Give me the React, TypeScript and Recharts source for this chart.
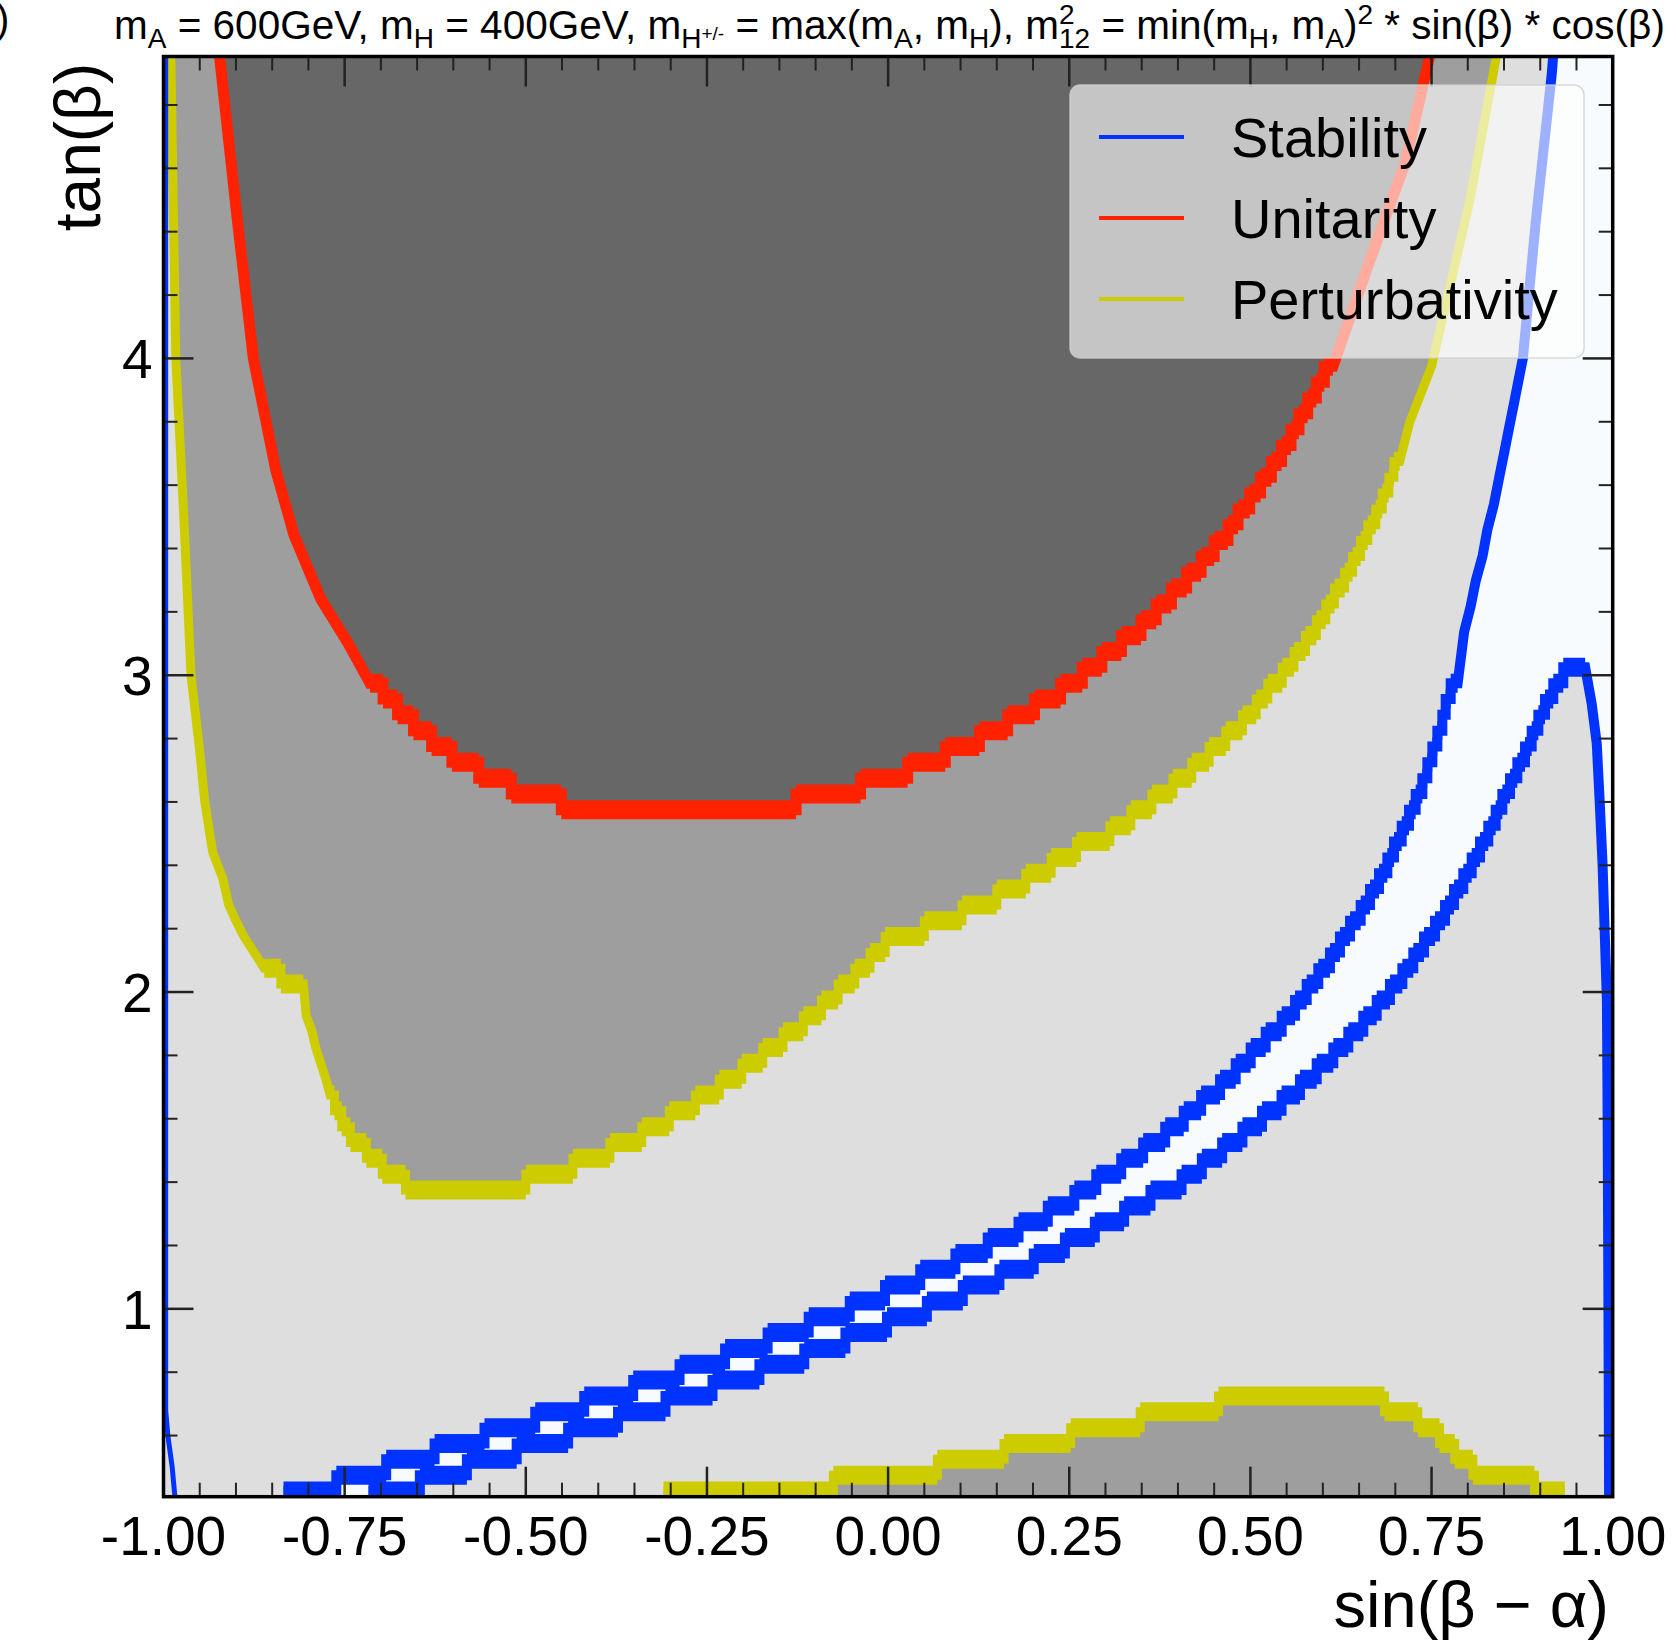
import React from 'react';
import { ComposedChart, Area, Line, XAxis, YAxis } from 'recharts';

const W = 1676;
const H = 1642;
const PLOT = { left: 163.5, right: 1612.7, top: 56.5, bottom: 1496.7 };
const X_AXIS_H = 60;
const Y_AXIS_W = 60;
const FONT = '"Liberation Sans", Arial, Helvetica, sans-serif';

const X_DOMAIN = [-1, 1];
const Y_DOMAIN = [0.407, 4.953];
const X_TICKS = [
  -1, -0.95, -0.9, -0.85, -0.8, -0.75, -0.7, -0.65, -0.6, -0.55, -0.5, -0.45, -0.4, -0.35,
  -0.3, -0.25, -0.2, -0.15, -0.1, -0.05, 0, 0.05, 0.1, 0.15, 0.2, 0.25, 0.3, 0.35, 0.4,
  0.45, 0.5, 0.55, 0.6, 0.65, 0.7, 0.75, 0.8, 0.85, 0.9, 0.95, 1,
];
const X_LABELED = [-1, -0.75, -0.5, -0.25, 0, 0.25, 0.5, 0.75, 1];
const Y_TICKS = [
  0.6, 0.8, 1, 1.2, 1.4, 1.6, 1.8, 2, 2.2, 2.4, 2.6, 2.8, 3, 3.2, 3.4, 3.6, 3.8, 4, 4.2,
  4.4, 4.6, 4.8,
];
const Y_LABELED = [1, 2, 3, 4];

const DARK = '#676767';
const MID = '#9e9e9e';
const LIGHT = '#dedede';
const PALE = '#f7fbfd';
const RED = '#ff2200';
const YELLOW = '#cccc00';
const BLUE = '#0033ff';
const TICK = '#222';

// half thickness of the stair blocks, in tan(beta) units
const HALF = 0.03;

type P = [number, number];

// Unitarity (red)
const RED_LEFT: P[] = [
  [-0.923, 4.96], [-0.899, 4.455], [-0.876, 4.0], [-0.845, 3.647], [-0.82, 3.443],
  [-0.783, 3.241], [-0.745, 3.1], [-0.715, 2.975],
];
const RED_STEPS: P[] = [
  [-0.715, 2.975], [-0.697, 2.925], [-0.677, 2.875], [-0.655, 2.825], [-0.63, 2.775],
  [-0.602, 2.725], [-0.565, 2.675], [-0.52, 2.625], [-0.451, 2.575], [-0.127, 2.625],
  [-0.038, 2.675], [0.027, 2.725], [0.079, 2.775], [0.126, 2.825], [0.165, 2.875],
  [0.202, 2.925], [0.238, 2.975], [0.268, 3.025], [0.295, 3.075], [0.322, 3.125],
  [0.349, 3.175], [0.37, 3.225], [0.391, 3.275], [0.412, 3.325], [0.432, 3.375],
  [0.45, 3.425], [0.469, 3.475], [0.483, 3.525], [0.499, 3.575], [0.514, 3.625],
  [0.529, 3.675], [0.543, 3.725], [0.556, 3.775], [0.567, 3.825], [0.579, 3.875],
  [0.591, 3.925], [0.602, 3.975], [0.614, 3.975],
];
const RED_RIGHT: P[] = [[0.614, 3.975], [0.662, 4.29], [0.714, 4.62], [0.748, 4.96]];

// Perturbativity (yellow), upper curve
const YEL_LEFT: P[] = [
  [-0.99, 4.96], [-0.983, 4.0], [-0.972, 3.5], [-0.962, 3.0], [-0.95, 2.76], [-0.943, 2.6],
  [-0.932, 2.44], [-0.918, 2.357], [-0.91, 2.275], [-0.9, 2.225], [-0.889, 2.175],
  [-0.875, 2.125], [-0.861, 2.075],
];
const YEL_STEPS_A: P[] = [[-0.861, 2.075], [-0.838, 2.025], [-0.807, 2.025]];
const YEL_MID: P[] = [
  [-0.807, 2.025], [-0.805, 1.975], [-0.803, 1.925], [-0.795, 1.875], [-0.79, 1.825],
  [-0.783, 1.775], [-0.776, 1.725], [-0.77, 1.675],
];
const YEL_STEPS_B: P[] = [
  [-0.77, 1.675], [-0.764, 1.625], [-0.754, 1.575], [-0.742, 1.525], [-0.72, 1.475],
  [-0.698, 1.425], [-0.666, 1.375], [-0.5, 1.425], [-0.435, 1.475], [-0.384, 1.525],
  [-0.34, 1.575], [-0.302, 1.625], [-0.266, 1.675], [-0.233, 1.725], [-0.202, 1.775],
  [-0.173, 1.825], [-0.145, 1.875], [-0.117, 1.925], [-0.092, 1.975], [-0.069, 2.025],
  [-0.046, 2.075], [-0.025, 2.125], [-0.004, 2.175], [0.05, 2.225], [0.102, 2.275],
  [0.15, 2.325], [0.19, 2.375], [0.225, 2.425], [0.26, 2.475], [0.306, 2.525],
  [0.335, 2.575], [0.364, 2.625], [0.393, 2.675], [0.419, 2.725], [0.443, 2.775],
  [0.466, 2.825], [0.489, 2.875], [0.508, 2.925], [0.524, 2.975], [0.544, 3.025],
  [0.56, 3.075], [0.576, 3.125], [0.591, 3.175], [0.604, 3.225], [0.616, 3.275],
  [0.63, 3.325], [0.641, 3.375], [0.652, 3.425], [0.662, 3.475], [0.673, 3.525],
  [0.682, 3.575], [0.691, 3.625], [0.698, 3.675], [0.706, 3.675],
];
const YEL_RIGHT: P[] = [[0.706, 3.675], [0.72, 3.8], [0.75, 3.975], [0.803, 4.5], [0.84, 4.96]];

// Perturbativity (yellow), lower curve
const YEL_LOW_STEPS: P[] = [
  [-0.31, 0.425], [-0.0755, 0.475], [0.068, 0.525], [0.16, 0.575], [0.252, 0.625],
  [0.348, 0.675], [0.456, 0.725], [0.685, 0.675], [0.731, 0.625], [0.761, 0.575],
  [0.782, 0.525], [0.807, 0.475], [0.892, 0.425], [0.934, 0.425],
];

// Stability (blue), upper curve
const BLUE_UP_STEPS: P[] = [
  [-0.8344, 0.425], [-0.7615, 0.475], [-0.6927, 0.525], [-0.6259, 0.575], [-0.557, 0.625],
  [-0.487, 0.675], [-0.4194, 0.725], [-0.3518, 0.775], [-0.2878, 0.825], [-0.225, 0.875],
  [-0.1663, 0.925], [-0.1096, 0.975], [-0.0529, 1.025], [-0.0043, 1.075], [0.0443, 1.125],
  [0.0929, 1.175], [0.1375, 1.225], [0.18, 1.275], [0.2204, 1.325], [0.257, 1.375],
  [0.2873, 1.425], [0.3217, 1.475], [0.352, 1.525], [0.3824, 1.575], [0.408, 1.625],
  [0.432, 1.675], [0.4581, 1.725], [0.4797, 1.775], [0.5004, 1.825], [0.5211, 1.875],
  [0.5432, 1.925], [0.5616, 1.975], [0.5777, 2.025], [0.5937, 2.075], [0.6098, 2.125],
  [0.6236, 2.175], [0.6375, 2.225], [0.6522, 2.275], [0.6651, 2.325], [0.6775, 2.375],
  [0.689, 2.425], [0.6982, 2.475], [0.7088, 2.525], [0.7189, 2.575], [0.7281, 2.625],
  [0.7373, 2.675], [0.7442, 2.725], [0.7511, 2.775], [0.758, 2.825], [0.7649, 2.875],
  [0.7695, 2.925], [0.7764, 2.975], [0.786, 2.975],
];
const BLUE_UP_RIGHT: P[] = [
  [0.786, 2.975], [0.795, 3.137], [0.804, 3.218], [0.811, 3.298], [0.8206, 3.378],
  [0.827, 3.459], [0.836, 3.539], [0.843, 3.62], [0.85, 3.7], [0.857, 3.781],
  [0.864, 3.861], [0.871, 3.942], [0.876, 4.0], [0.894, 4.436], [0.916, 4.9], [0.918, 4.96],
];

// Stability (blue), lower curve
const BLUE_LOW_STEPS: P[] = [
  [-0.717, 0.425], [-0.6462, 0.475], [-0.5813, 0.525], [-0.5126, 0.575], [-0.4416, 0.625],
  [-0.3728, 0.675], [-0.3072, 0.725], [-0.2423, 0.775], [-0.1776, 0.825], [-0.1157, 0.875],
  [-0.0589, 0.925], [-0.0015, 0.975], [0.0535, 1.025], [0.1031, 1.075], [0.1536, 1.125],
  [0.201, 1.175], [0.244, 1.225], [0.2853, 1.275], [0.3257, 1.325], [0.3621, 1.375],
  [0.405, 1.425], [0.433, 1.475], [0.461, 1.525], [0.489, 1.575], [0.516, 1.625],
  [0.543, 1.675], [0.5684, 1.725], [0.5915, 1.775], [0.6144, 1.825], [0.6351, 1.875],
  [0.6558, 1.925], [0.6743, 1.975], [0.6926, 2.025], [0.7097, 2.075], [0.7248, 2.125],
  [0.7396, 2.175], [0.7548, 2.225], [0.7686, 2.275], [0.781, 2.325], [0.7938, 2.375],
  [0.8054, 2.425], [0.8169, 2.475], [0.8283, 2.525], [0.8385, 2.575], [0.8477, 2.625],
  [0.8583, 2.675], [0.8684, 2.725], [0.879, 2.775], [0.8882, 2.825], [0.8974, 2.875],
  [0.9066, 2.925], [0.918, 2.975], [0.9318, 3.025], [0.962, 3.025],
];
const BLUE_LOW_RIGHT: P[] = [
  [0.962, 3.025], [0.971, 2.91], [0.978, 2.784], [0.982, 2.603], [0.986, 2.404],
  [0.989, 2.187], [0.992, 1.971], [0.993, 1.608], [0.994, 1.065], [0.995, 0.4],
];
// thin stability contour hugging the left edge
const BLUE_EDGE: P[] = [[-0.997, 4.96], [-0.997, 0.68], [-0.994, 0.6], [-0.988, 0.5], [-0.984, 0.4]];
// corner the pale (stable) region reaches at the top right
const PALE_CORNER: P[] = [[1, 4.96]];

const LEGEND = [
  { name: 'Stability', color: BLUE },
  { name: 'Unitarity', color: RED },
  { name: 'Perturbativity', color: YELLOW },
];

const pts = (a: P[]) => a.map(([x, y]) => ({ x, y }));
const expand = (steps: P[]): P[] => {
  const out: P[] = [];
  for (let i = 0; i < steps.length - 1; i++) {
    out.push([steps[i][0], steps[i][1]], [steps[i + 1][0], steps[i][1]]);
  }
  return out;
};
const band = (steps: P[]) => steps.map(([x, y]) => ({ x, band: [y - HALF, y + HALF] }));

const RED_ALL = [...RED_LEFT, ...expand(RED_STEPS), ...RED_RIGHT];
const YEL_ALL = [...YEL_LEFT, ...expand(YEL_STEPS_A), ...YEL_MID, ...expand(YEL_STEPS_B), ...YEL_RIGHT];
const BLUE_UP_LINE = [...expand(BLUE_UP_STEPS), ...BLUE_UP_RIGHT];
const BLUE_LOW_ALL = [...expand(BLUE_LOW_STEPS), ...BLUE_LOW_RIGHT];
const YEL_LOW_ALL = expand(YEL_LOW_STEPS);

const isIn = (list: number[], v: number) => list.some((t) => Math.abs(t - v) < 1e-9);

const XTick = (props: any) => {
  const { x, payload } = props;
  const v: number = payload.value;
  const major = isIn(X_LABELED, v);
  const len = major ? 30 : 14;
  const sw = major ? 2.5 : 2;
  return (
    <g>
      <line x1={x} x2={x} y1={PLOT.bottom} y2={PLOT.bottom - len} stroke={TICK} strokeWidth={sw} />
      <line x1={x} x2={x} y1={PLOT.top} y2={PLOT.top + len} stroke={TICK} strokeWidth={sw} />
      {major && (
        <text x={x} y={PLOT.bottom + 58} textAnchor="middle" fontSize={55} fontFamily={FONT} fill="#000">
          {v.toFixed(2)}
        </text>
      )}
    </g>
  );
};

const YTick = (props: any) => {
  const { y, payload } = props;
  const v: number = payload.value;
  const major = isIn(Y_LABELED, v);
  const len = major ? 30 : 14;
  const sw = major ? 2.5 : 2;
  return (
    <g>
      <line x1={PLOT.left} x2={PLOT.left + len} y1={y} y2={y} stroke={TICK} strokeWidth={sw} />
      <line x1={PLOT.right} x2={PLOT.right - len} y1={y} y2={y} stroke={TICK} strokeWidth={sw} />
      {major && (
        <text x={PLOT.left - 11} y={y + 20} textAnchor="end" fontSize={55} fontFamily={FONT} fill="#000">
          {String(v)}
        </text>
      )}
    </g>
  );
};

// title pieces: [text, kind]  n normal, b subscript, p superscript, s small raised in subscript
const TITLE: [string, string, number?][] = [
  ['m', 'n'], ['A', 'b'], [' = 600GeV, m', 'n'], ['H', 'b'], [' = 400GeV, m', 'n'], ['H', 'b'],
  ['+/-', 's'], [' = max(m', 'n'], ['A', 'b'], [', m', 'n'], ['H', 'b'], ['), m', 'n'],
  ['2', 'p'], ['12', 'b', -15.6], [' = min(m', 'n'], ['H', 'b'], [', m', 'n'], ['A', 'b'],
  [')', 'n'], ['2', 'p'], [' * sin(β) * cos(β)', 'n'],
];
const SHIFT: Record<string, number> = { n: 0, b: 9, p: -15, s: 1 };
const SIZE: Record<string, number> = { n: 40.5, b: 28, p: 28, s: 19 };

const Title = () => {
  let prev = 0;
  return (
    <text x={114} y={39} fontFamily={FONT} fill="#000" style={{ whiteSpace: 'pre' }}>
      {TITLE.map(([t, k, dx], i) => {
        const dy = SHIFT[k] - prev;
        prev = SHIFT[k];
        return (
          <tspan key={i} dy={dy} dx={dx ?? 0} fontSize={SIZE[k]}>
            {t}
          </tspan>
        );
      })}
    </text>
  );
};

const fillProps = { stroke: 'none', fillOpacity: 1, isAnimationActive: false, dot: false, activeDot: false } as const;
const lineProps = {
  type: 'linear',
  dot: false,
  activeDot: false,
  isAnimationActive: false,
  strokeLinejoin: 'miter',
  strokeLinecap: 'butt',
} as const;

export default function App() {
  return (
    <div style={{ position: 'fixed', left: 0, top: 0, width: W, height: H, background: '#fff' }}>
      <ComposedChart
        width={W}
        height={H}
        margin={{
          top: PLOT.top,
          left: PLOT.left - Y_AXIS_W,
          right: W - PLOT.right,
          bottom: H - PLOT.bottom - X_AXIS_H,
        }}
      >
        <XAxis
          type="number"
          dataKey="x"
          domain={X_DOMAIN}
          ticks={X_TICKS}
          interval={0}
          allowDataOverflow
          axisLine={false}
          tickLine={false}
          tickSize={0}
          height={X_AXIS_H}
          tick={<XTick />}
        />
        <YAxis
          type="number"
          domain={Y_DOMAIN}
          ticks={Y_TICKS}
          interval={0}
          allowDataOverflow
          axisLine={false}
          tickLine={false}
          tickSize={0}
          width={Y_AXIS_W}
          tick={<YTick />}
        />
        {/* background */}
        <Area data={pts([[-1, 4.96], [1, 4.96]])} dataKey="y" type="linear" baseValue="dataMin" fill={LIGHT} {...fillProps} />
        {/* filled regions */}
        <Area data={pts(YEL_ALL)} dataKey="y" type="linear" baseValue="dataMax" fill={MID} {...fillProps} />
        <Area data={pts(RED_ALL)} dataKey="y" type="linear" baseValue="dataMax" fill={DARK} {...fillProps} />
        <Area data={pts([...BLUE_UP_LINE, ...PALE_CORNER])} dataKey="y" type="linear" baseValue="dataMin" fill={PALE} {...fillProps} />
        <Area data={pts(BLUE_LOW_ALL)} dataKey="y" type="linear" baseValue="dataMin" fill={LIGHT} {...fillProps} />
        <Area data={pts(YEL_LOW_ALL)} dataKey="y" type="linear" baseValue="dataMin" fill={MID} {...fillProps} />
        {/* stair blocks of the contours */}
        <Area data={band(RED_STEPS)} dataKey="band" type="stepAfter" fill={RED} {...fillProps} />
        <Area data={band(YEL_STEPS_A)} dataKey="band" type="stepAfter" fill={YELLOW} {...fillProps} />
        <Area data={band(YEL_STEPS_B)} dataKey="band" type="stepAfter" fill={YELLOW} {...fillProps} />
        <Area data={band(YEL_LOW_STEPS)} dataKey="band" type="stepAfter" fill={YELLOW} {...fillProps} />
        <Area data={band(BLUE_UP_STEPS)} dataKey="band" type="stepAfter" fill={BLUE} {...fillProps} />
        <Area data={band(BLUE_LOW_STEPS)} dataKey="band" type="stepAfter" fill={BLUE} {...fillProps} />
        {/* contour lines */}
        <Line data={pts(RED_ALL)} dataKey="y" stroke={RED} strokeWidth={11} {...lineProps} />
        <Line data={pts(YEL_ALL)} dataKey="y" stroke={YELLOW} strokeWidth={9} {...lineProps} />
        <Line data={pts(YEL_LOW_ALL)} dataKey="y" stroke={YELLOW} strokeWidth={9} {...lineProps} />
        <Line data={pts(BLUE_UP_LINE)} dataKey="y" stroke={BLUE} strokeWidth={10} {...lineProps} />
        <Line data={pts(BLUE_LOW_ALL)} dataKey="y" stroke={BLUE} strokeWidth={10} {...lineProps} />
        <Line data={pts(BLUE_EDGE)} dataKey="y" stroke={BLUE} strokeWidth={5} {...lineProps} />
      </ComposedChart>

      <svg
        width={W}
        height={H}
        style={{ position: 'absolute', left: 0, top: 0, pointerEvents: 'none' }}
      >
        <rect
          x={PLOT.left}
          y={PLOT.top}
          width={PLOT.right - PLOT.left}
          height={PLOT.bottom - PLOT.top}
          fill="none"
          stroke="#000"
          strokeWidth={3.5}
        />
        <text x={-4} y={33} fontSize={40} fontFamily={FONT}>)</text>
        <Title />
        <text
          transform="translate(100,147) rotate(-90)"
          textAnchor="middle"
          fontSize={64}
          fontFamily={FONT}
          fill="#000"
        >
          tan(β)
        </text>
        <text x={1609} y={1627} textAnchor="end" fontSize={65} fontFamily={FONT} fill="#000">
          sin(β − α)
        </text>
        <g>
          <rect x={1070} y={85} width={514} height={273} rx={10} fill="#fff" fillOpacity={0.62} stroke="#cfcfcf" strokeOpacity={0.8} strokeWidth={1.5} />
          {LEGEND.map((it, i) => (
            <g key={it.name}>
              <line x1={1099} x2={1184} y1={137 + i * 81} y2={137 + i * 81} stroke={it.color} strokeWidth={4} />
              <text x={1231} y={157 + i * 81} fontSize={56} fontFamily={FONT} fill="#000">
                {it.name}
              </text>
            </g>
          ))}
        </g>
      </svg>
    </div>
  );
}
